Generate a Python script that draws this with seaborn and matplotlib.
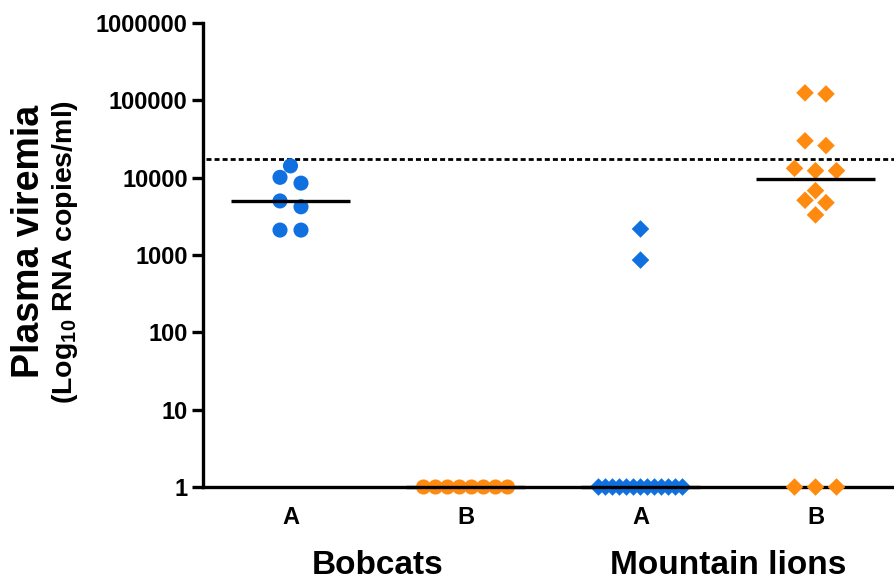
import numpy as np
import pandas as pd
import matplotlib
matplotlib.use("Agg")
import matplotlib.pyplot as plt
import seaborn as sns

# ---------------- data ----------------
groups = ["Bobcats A", "Bobcats B", "Mountain lions A", "Mountain lions B"]
tick_labels = ["A", "B", "A", "B"]
species_names = ["Bobcats", "Mountain lions"]
bobcats_A = [14200, 10100, 8500, 5000, 4200, 2100, 2100]
bobcats_B = [1, 1, 1, 1, 1, 1, 1, 1]
lions_A = [2170, 860, 1, 1, 1, 1, 1, 1, 1, 1, 1, 1, 1, 1, 1]
lions_B = [125000, 121000, 30000, 26000, 13200, 12300, 12300,
           6800, 5100, 4750, 3300, 1, 1, 1]
threshold = 17200
y_ticks = [1, 10, 100, 1000, 10000, 100000, 1000000]

blue = "#1170E0"
orange = "#FF8A10"


def dot_offsets(values, row_h=0.12, step=0.12, max_span=0.48):
    """Deterministic column-scatter layout (like a GraphPad dot plot)."""
    logs = np.log10(np.asarray(values, dtype=float))
    order = np.argsort(-logs, kind="stable")
    offsets = np.zeros(len(values))
    rows = []
    for idx in order:
        if rows and rows[-1][0] - logs[idx] < row_h:
            rows[-1][1].append(idx)
        else:
            rows.append([logs[idx], [idx]])
    for _, members in rows:
        n = len(members)
        if n > 1:
            s = min(step, max_span / (n - 1))
            for k, idx in enumerate(members):
                offsets[idx] = (k - (n - 1) / 2) * s
    return offsets


series = [bobcats_A, bobcats_B, lions_A, lions_B]
frames = []
for i, (g, vals) in enumerate(zip(groups, series)):
    frames.append(pd.DataFrame({
        "group": g,
        "species": species_names[i // 2],
        "sub": tick_labels[i],
        "pos": i + dot_offsets(vals),
        "value": vals,
    }))
df = pd.concat(frames, ignore_index=True)

# ---------------- styling ----------------
sns.set_style("ticks")
plt.rcParams["font.family"] = ["Liberation Sans", "DejaVu Sans"]
plt.rcParams["font.weight"] = "bold"
plt.rcParams["text.color"] = "black"
plt.rcParams["mathtext.fontset"] = "custom"
plt.rcParams["mathtext.rm"] = "Liberation Sans:bold"
plt.rcParams["mathtext.bf"] = "Liberation Sans:bold"
plt.rcParams["mathtext.it"] = "Liberation Sans:bold:italic"

W, H = 895, 581
fig = plt.figure(figsize=(W / 100, H / 100), dpi=100)
ax = fig.add_axes([203 / W, (H - 487) / H, 700 / W, 464 / H])

palette = {"A": blue, "B": orange}
sns.scatterplot(data=df[df["species"] == "Bobcats"], x="pos", y="value",
                hue="sub", palette=palette, marker="o", s=118, linewidth=0,
                legend=False, ax=ax, zorder=3, clip_on=False)
sns.scatterplot(data=df[df["species"] == "Mountain lions"], x="pos", y="value",
                hue="sub", palette=palette, marker="D", s=80, linewidth=0,
                legend=False, ax=ax, zorder=3, clip_on=False)

# medians
for i, vals in enumerate(series):
    ax.hlines(np.median(vals), i - 0.34, i + 0.34, color="black",
              linewidth=2.4, zorder=4, clip_on=False)

# detection threshold
ax.axhline(threshold, color="black", linewidth=2.0, linestyle=(0, (1.8, 1.1)),
           zorder=2, xmin=0.005)

ax.set_yscale("log")
ax.set_ylim(1, 1000000)
ax.set_xlim(-0.5, 3.5)
ax.set_yticks(y_ticks)
ax.set_yticklabels([str(t) for t in y_ticks])
ax.yaxis.set_minor_locator(matplotlib.ticker.NullLocator())
ax.set_xticks(range(len(groups)))
ax.set_xticklabels(tick_labels)
ax.set_xlabel("")
ax.set_ylabel("")

for side in ["top", "right"]:
    ax.spines[side].set_visible(False)
for side in ["left", "bottom"]:
    ax.spines[side].set_linewidth(2.4)
    ax.spines[side].set_color("black")

ax.tick_params(axis="y", length=8, width=2.4, labelsize=17, pad=3,
               colors="black")
ax.tick_params(axis="x", length=0, labelsize=17, pad=14, colors="black")
for lab in ax.get_xticklabels() + ax.get_yticklabels():
    lab.set_fontweight("bold")

# axis title (two lines)
fig.text(29 / W, 1 - 241 / H, "Plasma viremia", rotation=90, fontsize=27,
         fontweight="bold", ha="center", va="center", color="black")
fig.text(65 / W, 1 - 252 / H, r"(Log$_{\mathrm{10}}$ RNA copies/ml)",
         rotation=90, fontsize=20.5, fontweight="bold", ha="center",
         va="center", color="black")

# species labels
for k, name in enumerate(species_names):
    xc = 203 + (2 * k + 0.5 + 0.5) * 175
    fig.text(xc / W, 1 - 574 / H, name, fontsize=24, fontweight="bold",
             ha="center", va="baseline", color="black")

fig.savefig("out.png", dpi=100)
